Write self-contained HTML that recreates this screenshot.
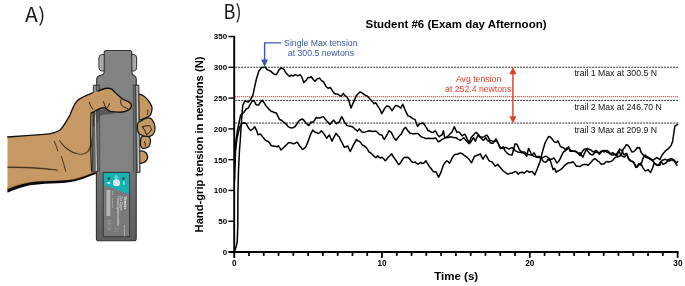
<!DOCTYPE html>
<html lang="en"><head><meta charset="utf-8"><title>Hand-grip tension figure</title>
<style>
html,body{margin:0;padding:0;background:#fff;}
body{width:685px;height:286px;overflow:hidden;}
svg{display:block;}
text{font-family:"Liberation Sans",Arial,sans-serif;}
.lbl{font-family:"Noto Sans CJK SC","Liberation Sans",sans-serif;font-weight:400;font-size:19.5px;fill:#1a1a1a;}
.tk{font-weight:bold;font-size:8.2px;fill:#000;}
.tky{font-weight:bold;font-size:8px;fill:#000;}
.ttl{font-weight:bold;font-size:11.5px;fill:#000;}
.yl{font-weight:bold;font-size:11.2px;fill:#000;}
.ann{font-size:8.7px;}
</style></head><body>
<svg width="685" height="286" viewBox="0 0 685 286">
<rect width="685" height="286" fill="#fff"/>
<g id="illustration" stroke-linejoin="round" stroke-linecap="round">
<!-- forearm + palm (behind device) -->
<path d="M7.5,137 L26.3,135.6 L43.8,134.4 C50,134 56,133 60.4,129.7 C64,126 67,120 70.1,114.8 C72,110 74,103 78,99.9 C84,96 92,93 98.1,91.1 L100,91 L100,173 L95.5,173.1 C90,175 84,178 78.8,179.3 C74,181 70,181.9 57.8,182.4 C50,182.6 40,183 29.8,184.5 C22,186 14,189 7.5,191.5 Z" fill="#c69864"/>
<path d="M7.5,191 C14,188.5 22,185.5 29.8,184 C40,182.5 50,182.1 57.8,181.9 C70,181.4 74,180.5 78.8,178.8 C84,177.5 90,174.5 95.5,172.6 L95.5,171.5 C90,173.2 84,176 78.8,177.3 C74,178.8 70,179.7 57.8,180.2 C50,180.4 40,180.6 29.8,181.6 C22,182.8 14,184.8 7.5,187 Z" fill="#b3854f"/>
<path d="M7.5,192.8 C14,190 22,186.9 29.8,185.3 C40,183.8 50,183.4 57.8,183.2 C70,182.7 74,181.8 78.8,180.1 C84,178.8 90,175.8 95.9,173.9 L95.6,172.1 C90,174 84,176.6 78.8,178 C74,179.5 70,180.3 57.8,180.8 C50,181 40,181.2 29.8,182.4 C22,183.6 14,186.3 7.5,189.3 Z" fill="#0a0a0a"/>
<path d="M7.5,137 L26.3,135.6 L43.8,134.4 C50,134 56,133 60.4,129.7 C64,126 67,120 70.1,114.8 C72,110 74,103 78,99.9 C84,96 92,93 98.1,91.1" fill="none" stroke="#111" stroke-width="1.3"/>
<!-- creases -->
<path d="M54.3,141.4 C56,145 57,148 57.8,151" fill="none" stroke="#2a1a0c" stroke-width="0.8"/>
<path d="M59.6,140.5 C64,147 70,151.5 77.1,153.7 C70,152.5 63.5,147.5 59.6,140.5Z" fill="#2a1a0c" stroke="#2a1a0c" stroke-width="0.5"/>
<path d="M61.3,156.3 C63,161 64.5,166 65.7,171.2" fill="none" stroke="#2a1a0c" stroke-width="0.8"/>
<path d="M8,166.9 C25,166.8 45,167.6 57.8,170.3 C45,168.6 25,167.7 8,167.5Z" fill="#2a1a0c" stroke="#2a1a0c" stroke-width="0.5"/>
<path d="M77.1,153.7 C80,154.8 83,154.6 85.8,152.8" fill="none" stroke="#2a1a0c" stroke-width="0.7"/>
<path d="M91.6,136 C91.2,144 88.8,150 85.8,152.8 C84.5,153.8 83,154.3 82,154.4 C86,154.6 90,152 92.3,146 Z" fill="#6e4a24" stroke="none"/>
<path d="M91.2,112 C90.3,125 90.6,150 91.5,171" fill="none" stroke="#1a1a1a" stroke-width="1.1"/>
<!-- fingers (behind device) -->
<g fill="#c69864" stroke="#111" stroke-width="1.25">
<path d="M137,95 L139.6,94.1 C142.2,94.6 146,97 149.9,102.8 C151.6,105.5 152.3,107.5 152,109.1 C151.8,111.5 151.4,113 150.6,114.7 C150,115.6 149.5,116 149.2,116.1 C148,116.5 147,117 146.4,117.5 L141.5,119.6 L137,120 Z"/>
<path d="M147.8,109.8 C147.9,111.5 147.6,113.2 147.1,114.7" fill="none" stroke-width="0.8"/>
<path d="M137,151.5 C140,150.6 143.5,150.7 145.4,152.2 C147.2,153.7 147.8,156 147.4,158.3 C146.8,161.5 143.5,163.6 137,163.4 Z"/>
</g>
<!-- dynamometer -->
<defs><linearGradient id="bodyg" gradientUnits="userSpaceOnUse" x1="0" y1="50" x2="0" y2="241">
<stop offset="0" stop-color="#828483"/><stop offset="0.63" stop-color="#818382"/><stop offset="0.645" stop-color="#717272"/><stop offset="1" stop-color="#5d5d5d"/></linearGradient></defs>
<g stroke="#303030" stroke-width="1">
<path d="M104.4,54.5 L101.7,54.5 Q98.9,54.8 98.9,58 L98.9,67.5 Q98.9,70.7 101.7,71 L104.4,71 Z" fill="#b2b2b2"/>
<path d="M131.6,54.5 L134,54.5 Q136.6,54.8 136.6,58 L136.6,67.5 Q136.6,70.7 134,71 L131.6,71 Z" fill="#b2b2b2"/>
<path d="M101.6,55.5 L101.6,70 M134.1,55.5 L134.1,70" stroke="#9a9a9a" stroke-width="0.7" fill="none"/>
<path d="M106.2,50.5 L129.8,50.5 Q131.8,50.5 131.8,52.5 L131.8,72 Q131.9,74.8 134.3,75.8 Q136.3,76.8 136.3,79 L136.3,171.8 L136.2,171.8 L136.2,238.4 Q136.2,240.8 133.8,240.8 L98.9,240.8 Q96.4,240.8 96.4,238.4 L96.4,171.8 L96.7,171.8 L96.7,79 Q96.7,76.6 99,75.8 Q104.1,75 104.2,72 L104.2,52.5 Q104.2,50.5 106.2,50.5 Z" fill="url(#bodyg)" stroke-width="1.1"/>
</g>
<!-- grip rails -->
<g stroke="none">
<path d="M93.3,85.2 L99.6,85.2 L99.8,171.6 L92.2,171.6 Z" fill="#666868"/>
<path d="M96.2,85.2 L99.6,85.2 L99.8,171.6 L97.2,171.6 Z" fill="#6c6e6e"/>
<path d="M94.6,86 L95.6,86 L97.1,171 L95.9,171 Z" fill="#d2d2d2"/>
<path d="M133.2,85.2 L138.8,85.2 L140,172.6 L133.4,172.6 Z" fill="#686a6a"/>
<path d="M136.5,86 L137.5,86 L139.1,171.6 L138,171.6 Z" fill="#d6d6d6"/>
</g>
<g fill="none" stroke="#2c2c2c" stroke-width="0.8">
<path d="M92.3,172 L93.4,85.2 L99.5,85.2"/>
<path d="M96.1,85.2 L97.5,171.6" stroke-width="0.6"/>
<path d="M99.6,85.2 L99.7,171.6 L96.8,171.6" stroke-width="0.7" stroke="#444"/>
<path d="M92.3,171.8 L96.6,171.8" stroke-width="0.9"/>
<path d="M133.2,85.2 L138.9,85.2 L140.1,172.6 L136.2,172.6"/>
<path d="M133.3,85.2 L133.3,171.6" stroke-width="0.7" stroke="#444"/>
<path d="M135.5,85.2 L136.6,171.6" stroke-width="0.7"/>
</g>
<!-- curled fingers in front of the right rail -->
<g fill="#c69864" stroke="#111" stroke-width="1.2" stroke-linejoin="round">
<path d="M141.5,137 C143.5,135.6 146.5,135.2 148.6,136.6 C150.4,138 150.8,141 150.2,143.6 C149.3,146.8 146,148.6 142.5,148.3 C140.8,147.5 140.4,145 140.5,142.5 C140.5,140 140.6,138 141.5,137 Z"/>
<path d="M144.6,141.4 C145.2,143 145.5,144.8 145.5,146.3" fill="none" stroke-width="0.8"/>
<path d="M138.2,122.6 C140,121 142.5,120.2 145,118.8 C148.5,117 150.5,117.6 152,119.6 C154.2,122.5 155.3,126 154.9,129.5 C154.6,132 153.8,134 152.5,135 C150.5,136.4 148.5,136.7 147.5,136.5 C144.5,136.6 141.6,135.5 139.5,134 C137.9,132.5 137.4,130 137.4,128 C137.4,125.5 137.5,123.6 138.2,122.6 Z"/>
<path d="M142.6,126.7 C144.5,126 147.5,125.5 149.5,125.7 C150.6,126.8 151.3,128.2 151.4,129.7 C150.2,131.8 148.5,133.5 146.5,134.6 C145.5,132 144.2,129 142.6,126.7 Z" stroke-width="0.95"/>
<path d="M146.5,134.6 C147,135.5 147.3,136 147.5,136.5" fill="none" stroke-width="0.9"/>
</g>
<!-- label -->
<g>
<rect x="103.6" y="172.5" width="26" height="64.1" fill="#797b7b"/>
<path d="M103.6,172.5 L129.6,172.5 L129.6,194.3 L103.6,184.9 Z" fill="#17b0b5"/>
<rect x="103.6" y="172.5" width="26" height="64.1" fill="none" stroke="#2d3333" stroke-width="0.9"/>
<circle cx="108.9" cy="178.6" r="1.35" fill="#3b4a4a"/>
<circle cx="123.6" cy="178.6" r="1.35" fill="#3b4a4a"/>
<circle cx="116.5" cy="182.8" r="3.5" fill="#eef6f6"/>
<circle cx="116.5" cy="182.8" r="2.1" fill="#dfe7e7" stroke="#b9c6c6" stroke-width="0.45"/>
<path d="M116.2,175.6 L116.2,179 M115,176.7 L116.2,175.6 L117.4,176.7 M114.4,177.9 L118,177.9" stroke="#e8ffff" stroke-width="0.45" fill="none"/>
<rect x="107.2" y="182.1" width="3.1" height="1.6" rx="0.8" fill="#f4ffff"/>
<rect x="123" y="181.3" width="1.6" height="3.4" fill="#a5e3e5"/>
<g stroke="none">
<text transform="translate(124.3,196.6) rotate(90)" style="font-size:3.7px;font-weight:bold;" fill="#fff">Vernier</text>
<text transform="translate(120.3,196.6) rotate(90)" style="font-size:3.3px;" fill="#e4e4e4">Go Direct</text>
<text transform="translate(116.7,196.6) rotate(90)" style="font-size:3.3px;" fill="#e4e4e4">Hand Dynamometer</text>
<text transform="translate(112.4,191) rotate(90)" style="font-size:2.1px;" fill="#dcdcdc">GDX-HD 0510031</text>
<text transform="translate(124.3,225) rotate(90)" style="font-size:2.3px;" fill="#f0f0f0">vernier.com</text>
</g>
<g stroke="#ededed" stroke-width="1.05" fill="none">
<path d="M106.9,191.0 L110,191.0"/><path d="M106.9,193.0 L110,193.0"/><path d="M106.9,195.0 L110,195.0"/><path d="M106.9,197.0 L110,197.0"/><path d="M106.9,199.0 L110,199.0"/><path d="M106.9,201.0 L110,201.0"/><path d="M106.9,203.0 L110,203.0"/><path d="M106.9,205.0 L110,205.0"/><path d="M106.9,207.0 L110,207.0"/><path d="M106.9,209.0 L110,209.0"/><path d="M106.9,211.0 L110,211.0"/><path d="M106.9,213.0 L110,213.0"/><path d="M106.9,215.0 L110,215.0"/></g>
<g stroke="#cfcfcf" stroke-width="0.35" fill="none">
<path d="M108,220.5 L110.5,220.5 M108,222 L110.5,222 M108,223.5 L110.5,223.5 M108,225 L110.5,225 M108,228 L110.5,228 M108,229.5 L110.5,229.5"/>
<path d="M115.5,229 L117,229 M115.5,231.5 L116.5,231.5"/>
</g>
</g>
<!-- thumb (in front of device) -->
<path d="M97,111 C101,109.6 105,109 107.8,109.2 C110,110.8 112.5,112.2 115.5,112.8 C111,115.2 104.5,113.8 100.6,115.4 C99,116.4 98.4,119 98.3,123 L97,123 Z" fill="#454545" opacity="0.7"/>
<path d="M93.8,112 C93,114 92.8,120 93,127 L94.6,127 C94.6,121 95,115.5 96.4,112.6 Z" fill="#2a2a2a" opacity="0.55"/>
<path d="M86,97 C92,93.5 99,90 105,88.5 C108,88 110.5,88.3 112,89.4 C114,91 115.5,93 117.3,94.6 C119,96.3 121,97.8 122.6,99 C125,100.5 128,101 129.6,102.5 C131.3,103.8 131.8,105 131.3,106.5 C130.8,108.5 129.5,109.8 127.8,110.4 C125,111.8 122,112.3 119,112.2 C116,112.1 113,112 110.3,111.3 C108,110.3 106.5,108.5 105,107.8 C103,107.5 101.5,108 99.8,108.7 C98,109.5 96,110.5 94.5,111.3 L91,113 L86,113 Z" fill="#c69864" stroke="none"/>
<path d="M98.1,91.1 C100,90 103,89 105,88.5 C108,88 110.5,88.3 112,89.4 C114,91 115.5,93 117.3,94.6 C119,96.3 121,97.8 122.6,99 C125,100.5 128,101 129.6,102.5 C131.3,103.8 131.8,105 131.3,106.5 C130.8,108.5 129.5,109.8 127.8,110.4 C125,111.8 122,112.3 119,112.2 C116,112.1 113,112 110.3,111.3 C108,110.3 106.5,108.5 105,107.8 C103,107.5 101.5,108 99.8,108.7 C98,109.5 96,110.5 94.5,111.3 C93,112 92,112.5 91.2,113" fill="none" stroke="#111" stroke-width="1.35" stroke-linecap="round"/>
<path d="M120.8,99.9 C120.5,102 120.8,104 121.7,105.3 C123.5,107 126,108 127.8,108.7" fill="none" stroke="#111" stroke-width="0.9"/>
<path d="M89.3,102.4 C90,105 91.3,107.4 92.9,109.2" fill="none" stroke="#111" stroke-width="0.85"/>
<path d="M103.6,101.8 C104.2,104 104.9,105.8 105.6,107.3" fill="none" stroke="#111" stroke-width="0.85"/>
<path d="M109.6,103.6 C109,105.3 108.2,106.8 107,107.9" fill="none" stroke="#111" stroke-width="0.85"/>
</g>
<text class="lbl" transform="translate(25,21.8) scale(1.08,1)" style="letter-spacing:0.4px">A)</text>
<text class="lbl" transform="translate(223.6,19.2) scale(0.93,1)">B)</text>
<g id="chart">
<text class="ttl" x="456" y="27.8" text-anchor="middle">Student #6 (Exam day Afternoon)</text>
<path d="M235.2,67.26 L678,67.26" stroke="#151515" stroke-width="0.9" stroke-dasharray="2 1" fill="none"/>
<path d="M235.2,100.38 L678,100.38" stroke="#151515" stroke-width="0.9" stroke-dasharray="2 1" fill="none"/>
<path d="M235.2,123.04 L678,123.04" stroke="#151515" stroke-width="0.9" stroke-dasharray="2 1" fill="none"/>
<path d="M235.2,96.72 L678,96.72" stroke="#de3b26" stroke-width="1.2" stroke-dasharray="1.05 0.95" fill="none"/>
<polyline points="234.6,180.0 235.0,165.0 235.6,150.0 236.8,140.0 238.2,133.0 239.8,127.0 241.5,124.0 243.8,122.7 246.4,123.8 248.5,128.0 250.6,130.4 252.7,129.0 254.8,126.9 256.4,130.1 258.0,134.8 259.3,134.3 260.6,134.3 262.7,136.9 264.0,138.5 265.3,140.1 267.1,141.0 269.0,142.2 271.1,145.5 272.6,146.1 274.2,146.2 275.5,146.2 276.9,146.9 278.5,145.9 279.7,147.6 280.9,150.0 282.9,148.2 284.8,146.4 286.6,144.7 288.4,142.7 289.8,142.8 291.1,142.7 292.3,143.5 293.5,143.8 295.2,143.2 297.0,142.0 298.3,143.7 299.6,145.9 301.0,147.3 302.3,149.4 304.1,148.5 305.8,147.0 308.4,140.6 310.7,134.2 312.8,130.1 314.1,131.3 315.4,132.4 316.7,132.5 318.0,133.6 319.8,132.6 321.5,130.7 322.9,132.5 324.2,134.2 325.5,136.4 326.8,138.2 328.1,136.4 329.4,135.0 332.0,141.2 335.9,133.3 337.5,135.3 339.1,136.8 340.4,139.6 341.7,142.0 343.0,144.5 344.3,147.3 346.1,146.7 347.8,145.9 349.1,149.2 350.3,151.5 353.1,145.5 356.6,139.5 358.0,140.9 359.3,141.3 360.9,142.9 362.5,145.3 364.2,145.8 366.0,147.3 367.4,149.1 368.9,151.9 370.6,152.9 372.4,154.5 374.1,156.4 375.9,157.7 377.7,155.9 379.0,157.1 380.3,158.0 382.0,157.2 383.6,158.8 385.2,160.7 386.7,159.4 388.2,157.2 389.9,155.7 391.7,153.7 393.0,156.3 394.3,158.0 398.7,164.7 400.0,163.5 401.3,161.5 402.9,158.8 404.5,157.2 406.0,157.5 407.5,157.2 408.8,158.1 410.1,159.4 411.4,161.4 412.7,162.4 414.0,162.3 415.3,161.9 416.6,163.4 418.0,164.2 419.3,163.3 420.6,162.4 421.9,163.4 423.2,163.3 424.5,162.5 425.8,160.7 427.1,162.9 428.5,165.0 429.8,167.1 431.1,168.5 432.4,170.4 433.7,172.0 434.9,171.8 436.0,171.7 437.2,174.4 438.5,177.3 440.7,172.9 443.4,165.0 445.1,162.6 446.9,160.7 448.2,161.8 449.5,163.3 450.8,160.9 452.1,158.0 453.5,155.8 454.8,154.5 456.1,154.3 457.4,154.2 458.9,153.5 460.3,153.0 462.5,153.9 464.6,155.7 466.8,157.1 469.0,159.2 470.3,161.2 471.6,162.7 474.3,156.5 476.1,155.7 477.8,154.8 479.1,154.7 480.4,153.9 481.7,156.9 483.0,159.2 484.4,156.7 485.7,154.8 489.2,160.9 490.5,161.4 491.8,161.8 493.6,163.9 495.3,166.2 496.6,165.3 497.9,164.4 499.6,166.7 501.4,168.8 503.1,170.8 504.9,172.0 506.6,173.5 508.4,174.1 510.1,173.2 511.9,173.2 513.6,172.4 515.4,171.4 516.8,172.3 518.1,174.1 519.9,172.8 521.6,172.3 522.9,172.6 524.2,173.2 525.5,172.0 526.8,170.9 528.1,171.3 529.5,172.3 530.8,171.8 532.1,171.4 533.4,172.9 534.7,174.9 537.3,168.8 540.0,161.8 542.6,151.3 545.2,142.5 548.7,136.4 550.0,136.9 551.4,138.1 552.7,139.8 554.0,141.6 555.3,142.2 556.6,142.5 558.0,140.8 560.1,146.0 561.9,147.3 563.6,147.8 565.0,149.5 566.8,148.1 568.5,147.8 570.2,149.8 572.0,151.3 573.8,151.3 575.5,150.9 577.2,152.8 579.0,153.9 580.0,152.7 581.5,155.1 582.9,157.1 584.0,154.3 585.1,152.0 587.3,148.3 588.8,149.2 590.3,149.7 591.8,150.9 593.2,152.0 594.7,151.1 596.2,150.5 597.7,151.9 599.1,154.2 600.5,153.1 602.0,151.2 603.5,150.6 605.0,150.5 606.8,152.1 608.6,152.7 610.1,153.8 611.6,154.9 613.4,155.0 615.2,154.2 617.4,157.1 619.2,156.1 621.1,155.6 623.3,149.0 624.8,147.2 626.3,144.6 627.8,145.2 629.2,146.8 630.7,149.7 632.1,152.0 633.6,151.6 635.1,150.5 637.3,147.5 638.4,148.0 639.5,147.5 640.9,152.0 642.0,153.6 643.1,154.9 645.0,155.2 646.8,156.4 648.6,157.5 650.5,158.6 652.0,159.7 653.4,160.0 654.9,158.8 656.4,157.8 658.2,158.3 660.0,159.6 661.1,157.0 662.2,155.0 663.6,153.1 665.0,151.4 666.8,149.8 668.5,148.6 669.9,147.1 671.3,145.1 672.7,140.9 673.4,136.0 674.0,132.0 674.8,126.4 676.0,125.3 677.6,124.5" fill="none" stroke="#000" stroke-width="1.5" stroke-linejoin="round" stroke-linecap="round"/>
<polyline points="234.8,165.0 235.3,150.0 236.0,140.0 237.5,130.0 239.2,122.0 240.6,115.1 243.8,112.5 246.4,108.8 248.0,108.3 249.5,105.7 251.6,102.0 253.2,100.2 254.8,102.0 255.9,104.4 257.2,105.1 258.5,105.1 260.6,102.0 262.2,100.2 263.7,102.0 265.8,105.7 267.1,107.0 268.5,108.8 269.8,109.8 271.1,111.4 272.6,111.6 274.2,112.5 276.3,113.0 277.9,116.2 279.5,119.5 281.6,120.2 283.7,122.2 285.8,123.8 287.1,125.1 288.4,126.9 289.8,127.4 291.1,128.0 292.4,127.8 293.7,127.5 295.3,126.3 297.1,123.7 298.8,121.0 300.6,119.7 302.3,118.9 304.1,120.6 305.8,122.8 307.4,124.5 308.9,125.4 311.0,121.9 312.8,122.4 314.6,120.2 316.3,117.5 318.1,117.9 319.8,118.0 321.6,117.1 323.3,116.6 325.1,119.0 326.8,121.0 328.4,122.8 329.9,124.5 331.9,122.0 333.8,120.1 335.1,121.9 336.4,123.7 337.8,122.5 339.1,122.4 340.4,119.4 341.7,116.6 343.0,118.8 344.3,121.9 345.6,123.4 346.9,125.4 348.6,125.9 350.4,126.3 352.1,126.7 353.9,128.0 355.7,129.7 357.5,131.2 359.2,128.9 360.5,130.3 361.8,131.9 363.6,132.3 365.3,131.9 367.1,131.4 368.8,130.7 370.6,131.1 372.3,131.5 374.1,131.2 375.8,131.2 377.6,132.5 379.3,134.2 380.6,134.7 382.0,135.0 383.1,137.7 384.3,139.4 386.4,135.9 387.7,133.5 389.0,130.7 390.1,131.7 391.3,132.4 393.4,136.8 394.7,138.8 396.0,140.3 397.3,138.5 398.6,136.8 399.9,135.3 401.2,134.2 402.5,131.4 403.9,128.9 405.6,127.2 407.7,130.7 408.9,131.7 410.0,133.2 411.8,133.6 413.6,133.9 415.8,133.4 418.0,133.5 419.8,135.4 421.5,137.0 423.6,137.6 425.8,138.5 428.5,138.3 431.1,138.5 433.3,138.4 435.5,137.9 436.9,139.7 438.3,141.8 440.1,141.0 442.0,139.4 443.8,138.6 445.6,137.7 448.2,137.5 450.8,136.8 453.5,137.6 456.1,137.7 458.2,139.4 460.4,140.3 462.1,139.0 463.9,137.7 465.2,139.6 466.6,141.2 467.9,142.6 469.2,143.8 470.5,142.5 471.8,140.3 473.6,137.7 475.3,141.2 478.0,135.0 479.3,136.7 480.6,137.7 481.9,138.9 483.2,140.3 484.5,139.3 485.8,137.7 487.1,140.0 488.5,141.2 490.0,140.3 491.9,140.9 493.7,141.7 495.1,140.9 496.6,141.0 498.1,143.2 499.5,146.2 501.0,147.5 502.5,148.4 504.4,147.6 506.2,147.6 507.6,148.4 509.1,149.1 510.6,148.2 512.0,147.6 513.5,148.8 515.0,150.6 516.5,151.4 517.9,152.0 519.8,152.3 521.6,152.8 523.0,152.0 524.5,152.0 526.0,153.5 527.4,154.2 528.9,154.6 530.4,155.0 532.2,155.4 534.1,156.4 535.9,156.9 537.7,156.4 539.2,156.4 540.7,157.2 542.2,157.6 543.6,157.2 545.0,156.3 546.5,156.4 548.4,157.9 550.2,159.4 552.0,159.1 553.9,157.9 555.3,160.2 556.8,163.0 557.9,162.0 559.0,160.8 560.1,158.9 561.2,156.4 563.4,152.0 564.9,151.2 566.4,149.8 567.5,148.9 568.6,146.9 570.0,151.3 571.9,150.8 573.8,151.3 576.0,151.7 578.1,153.0 580.0,155.6 581.9,152.3 583.7,149.7 585.2,149.0 586.6,149.0 588.0,151.5 589.5,153.4 591.0,154.6 592.5,154.9 594.0,153.7 595.4,152.0 596.9,152.2 598.4,152.7 599.8,152.4 601.3,151.2 602.8,151.1 604.2,152.0 605.7,151.0 607.2,150.5 608.7,151.8 610.1,153.4 611.5,153.3 613.0,152.7 614.5,154.2 616.0,154.9 617.5,152.6 618.9,150.5 620.0,153.3 621.1,155.6 622.6,156.1 624.1,157.1 625.5,156.1 627.0,154.2 628.1,157.4 629.2,160.0 630.7,161.2 632.1,161.5 633.6,162.4 635.1,164.4 636.5,167.4 637.6,165.9 638.7,163.7 640.9,165.2 642.4,160.0 643.9,156.4 645.3,156.8 646.8,157.8 648.3,158.0 649.8,159.3 651.2,159.8 652.7,160.8 654.9,163.7 656.0,164.8 657.1,165.2 658.5,165.0 660.0,165.2 661.1,162.3 662.2,160.0 663.7,159.9 665.2,159.3 666.7,160.1 668.1,160.0 669.5,159.1 671.0,158.6 672.5,159.0 674.0,160.0 675.1,161.3 676.2,163.0 677.7,161.5" fill="none" stroke="#000" stroke-width="1.5" stroke-linejoin="round" stroke-linecap="round"/>
<polyline points="234.5,251.5 236.0,247.0 237.2,241.8 237.8,226.0 237.9,196.0 238.5,170.0 239.5,150.0 240.3,140.0 240.9,130.0 241.7,118.0 242.7,105.7 244.8,100.9 246.5,101.5 248.5,102.0 250.6,99.4 251.7,97.5 252.8,95.3 256.3,79.5 258.9,70.8 260.2,69.4 261.5,67.6 263.2,67.4 265.0,66.9 266.4,68.9 267.7,69.9 269.4,70.5 271.2,71.6 272.5,72.9 273.8,73.9 275.1,74.6 276.4,74.6 277.7,72.3 279.0,69.9 280.1,68.9 281.3,67.8 282.8,68.7 284.3,69.9 285.6,72.4 286.9,73.9 288.2,75.2 289.6,76.4 291.3,75.1 293.0,76.0 295.2,74.6 297.4,75.7 298.7,75.5 300.0,74.6 301.8,76.9 303.9,82.7 305.0,81.1 306.2,80.4 308.0,77.4 309.7,77.8 311.1,76.5 313.2,79.5 315.0,81.3 316.3,79.6 317.6,78.7 319.4,78.1 321.5,80.4 323.7,82.2 324.9,84.4 326.0,86.5 328.1,88.3 330.2,87.4 331.4,89.2 332.5,90.9 334.2,93.2 335.5,94.1 336.9,93.9 338.2,94.3 339.5,95.3 341.2,96.4 343.3,93.3 344.8,95.6 346.5,96.6 348.4,99.3 351.0,108.0 353.7,101.9 356.3,95.8 358.1,93.8 359.8,91.9 361.6,92.5 363.3,94.0 365.1,95.1 366.8,95.8 368.6,97.4 370.3,99.3 372.1,101.2 373.8,103.7 375.9,102.8 377.5,105.7 379.1,108.0 380.4,110.4 381.7,113.6 383.0,111.7 384.3,108.9 385.6,107.3 386.9,105.9 388.2,106.2 389.6,107.2 390.9,108.9 392.2,110.7 393.9,107.9 395.7,105.4 397.0,105.8 398.3,106.3 399.6,107.1 401.0,108.0 402.7,104.2 403.9,106.8 405.0,109.8 408.0,115.9 409.8,116.4 411.5,117.7 413.2,118.9 415.0,119.4 417.6,126.4 419.7,123.8 421.3,123.5 422.9,122.9 424.2,124.2 425.5,126.4 426.8,128.1 428.0,130.7 429.4,130.8 430.7,131.9 432.0,132.2 433.3,132.4 435.0,130.7 436.4,132.3 437.7,135.0 439.4,136.8 440.7,135.5 442.0,135.0 443.4,130.7 444.7,137.7 446.4,137.3 448.2,135.9 449.9,134.0 451.7,132.4 453.0,129.8 454.3,126.6 455.6,129.5 456.9,132.4 458.2,131.9 459.6,132.4 460.9,134.3 462.2,135.9 463.5,134.7 464.8,134.2 466.1,136.4 467.4,139.4 469.2,142.9 471.0,137.7 472.3,136.1 473.6,135.0 474.9,133.3 476.2,132.4 477.5,133.6 478.8,135.0 480.1,136.7 481.5,137.7 482.8,136.9 484.1,136.8 485.4,135.9 486.7,135.0 488.0,136.7 489.3,139.4 490.0,142.5 491.4,143.3 492.9,143.2 494.4,141.4 495.9,138.8 497.0,141.0 498.1,143.2 500.3,148.4 501.8,148.2 503.2,146.9 505.4,151.3 506.9,152.7 508.4,154.2 510.2,154.7 512.0,155.0 513.5,149.8 515.0,144.0 516.1,143.9 517.2,144.7 519.4,149.8 520.5,150.7 521.6,152.0 523.0,152.9 524.5,153.5 525.6,154.6 526.7,156.4 528.5,148.4 530.4,152.0 531.9,155.0 533.0,154.0 534.1,152.8 536.3,157.2 538.1,157.3 539.9,157.9 541.4,157.9 542.5,160.2 543.6,161.6 545.8,162.3 546.9,161.2 548.0,159.4 549.1,160.2 550.2,160.1 551.7,165.2 553.1,169.6 554.6,168.2 556.1,172.2 557.2,171.1 558.4,171.0 560.5,169.6 562.7,167.8 564.9,165.2 566.7,163.9 568.5,162.7 570.7,162.8 572.9,161.8 574.6,163.6 576.4,166.2 578.2,166.3 580.0,166.6 582.2,165.0 584.4,164.4 586.2,164.4 588.1,165.2 589.5,163.8 591.0,162.2 592.9,159.9 594.7,158.6 596.2,159.7 597.6,160.8 599.5,162.1 601.3,164.4 602.8,163.9 604.2,163.7 605.7,162.1 607.2,161.5 608.7,162.0 610.1,161.5 611.5,161.3 613.0,160.0 614.5,158.1 616.0,157.1 617.1,155.2 618.2,152.7 619.6,149.0 620.8,149.8 621.9,150.5 623.0,152.9 624.1,154.9 626.3,153.4 627.4,155.9 628.5,158.6 629.6,159.5 630.7,160.8 632.2,161.3 633.6,162.2 635.8,167.4 637.2,166.8 638.7,165.2 640.9,163.0 642.0,165.9 643.1,168.1 645.3,171.0 646.8,170.4 648.3,169.6 649.4,171.3 650.5,172.5 651.6,170.3 652.7,167.4 654.2,163.0 656.4,164.4 657.5,165.1 658.6,165.2 660.8,161.5 661.9,162.7 663.0,164.4 664.5,163.7 665.9,163.0 667.0,161.8 668.1,160.8 669.5,160.9 671.0,160.0 672.5,160.1 674.0,160.8 675.5,162.9 676.9,165.2" fill="none" stroke="#000" stroke-width="1.5" stroke-linejoin="round" stroke-linecap="round"/>
<path d="M234.2,35.8 L234.2,257.9" stroke="#000" stroke-width="1.9" fill="none"/>
<path d="M228.4,252.0 L678.5,252.0" stroke="#000" stroke-width="1.9" fill="none"/>
<path d="M228.4,221.22 L234.2,221.22" stroke="#000" stroke-width="1.4" fill="none"/>
<path d="M228.4,190.44 L234.2,190.44" stroke="#000" stroke-width="1.4" fill="none"/>
<path d="M228.4,159.66 L234.2,159.66" stroke="#000" stroke-width="1.4" fill="none"/>
<path d="M228.4,128.88 L234.2,128.88" stroke="#000" stroke-width="1.4" fill="none"/>
<path d="M228.4,98.10 L234.2,98.10" stroke="#000" stroke-width="1.4" fill="none"/>
<path d="M228.4,67.32 L234.2,67.32" stroke="#000" stroke-width="1.4" fill="none"/>
<path d="M228.4,36.54 L234.2,36.54" stroke="#000" stroke-width="1.4" fill="none"/>
<text class="tky" x="227.1" y="254.8" text-anchor="end">0</text>
<text class="tky" x="227.1" y="224.0" text-anchor="end">50</text>
<text class="tky" x="227.1" y="193.2" text-anchor="end">100</text>
<text class="tky" x="227.1" y="162.5" text-anchor="end">150</text>
<text class="tky" x="227.1" y="131.7" text-anchor="end">200</text>
<text class="tky" x="227.1" y="100.9" text-anchor="end">250</text>
<text class="tky" x="227.1" y="70.1" text-anchor="end">300</text>
<text class="tky" x="227.1" y="39.3" text-anchor="end">350</text>
<path d="M248.98,252.0 L248.98,255.9" stroke="#000" stroke-width="1.75" fill="none"/>
<path d="M263.76,252.0 L263.76,255.9" stroke="#000" stroke-width="1.75" fill="none"/>
<path d="M278.54,252.0 L278.54,255.9" stroke="#000" stroke-width="1.75" fill="none"/>
<path d="M293.32,252.0 L293.32,255.9" stroke="#000" stroke-width="1.75" fill="none"/>
<path d="M308.10,252.0 L308.10,255.9" stroke="#000" stroke-width="1.75" fill="none"/>
<path d="M322.88,252.0 L322.88,255.9" stroke="#000" stroke-width="1.75" fill="none"/>
<path d="M337.66,252.0 L337.66,255.9" stroke="#000" stroke-width="1.75" fill="none"/>
<path d="M352.44,252.0 L352.44,255.9" stroke="#000" stroke-width="1.75" fill="none"/>
<path d="M367.22,252.0 L367.22,255.9" stroke="#000" stroke-width="1.75" fill="none"/>
<path d="M382.00,252.0 L382.00,257.9" stroke="#000" stroke-width="1.75" fill="none"/>
<path d="M396.78,252.0 L396.78,255.9" stroke="#000" stroke-width="1.75" fill="none"/>
<path d="M411.56,252.0 L411.56,255.9" stroke="#000" stroke-width="1.75" fill="none"/>
<path d="M426.34,252.0 L426.34,255.9" stroke="#000" stroke-width="1.75" fill="none"/>
<path d="M441.12,252.0 L441.12,255.9" stroke="#000" stroke-width="1.75" fill="none"/>
<path d="M455.90,252.0 L455.90,255.9" stroke="#000" stroke-width="1.75" fill="none"/>
<path d="M470.68,252.0 L470.68,255.9" stroke="#000" stroke-width="1.75" fill="none"/>
<path d="M485.46,252.0 L485.46,255.9" stroke="#000" stroke-width="1.75" fill="none"/>
<path d="M500.24,252.0 L500.24,255.9" stroke="#000" stroke-width="1.75" fill="none"/>
<path d="M515.02,252.0 L515.02,255.9" stroke="#000" stroke-width="1.75" fill="none"/>
<path d="M529.80,252.0 L529.80,257.9" stroke="#000" stroke-width="1.75" fill="none"/>
<path d="M544.58,252.0 L544.58,255.9" stroke="#000" stroke-width="1.75" fill="none"/>
<path d="M559.36,252.0 L559.36,255.9" stroke="#000" stroke-width="1.75" fill="none"/>
<path d="M574.14,252.0 L574.14,255.9" stroke="#000" stroke-width="1.75" fill="none"/>
<path d="M588.92,252.0 L588.92,255.9" stroke="#000" stroke-width="1.75" fill="none"/>
<path d="M603.70,252.0 L603.70,255.9" stroke="#000" stroke-width="1.75" fill="none"/>
<path d="M618.48,252.0 L618.48,255.9" stroke="#000" stroke-width="1.75" fill="none"/>
<path d="M633.26,252.0 L633.26,255.9" stroke="#000" stroke-width="1.75" fill="none"/>
<path d="M648.04,252.0 L648.04,255.9" stroke="#000" stroke-width="1.75" fill="none"/>
<path d="M662.82,252.0 L662.82,255.9" stroke="#000" stroke-width="1.75" fill="none"/>
<path d="M677.60,252.0 L677.60,257.9" stroke="#000" stroke-width="1.75" fill="none"/>
<text class="tk" x="234.2" y="266" text-anchor="middle">0</text>
<text class="tk" x="382.0" y="266" text-anchor="middle">10</text>
<text class="tk" x="529.8" y="266" text-anchor="middle">20</text>
<text class="tk" x="677.9" y="266" text-anchor="middle">30</text>
<text class="ttl" x="456.2" y="280" text-anchor="middle">Time (s)</text>
<text class="yl" transform="translate(203.45,144.5) rotate(-90)" text-anchor="middle">Hand-grip tension in newtons (N)</text>
<g fill="#3c57a6">
<text class="ann" x="320.8" y="45.9" text-anchor="middle">Single Max tension</text>
<text class="ann" x="320.9" y="56" text-anchor="middle">at 300.5 newtons</text>
<path d="M281.3,42.9 L264.6,42.9 L264.6,60.5" fill="none" stroke="#3c57a6" stroke-width="1.4"/>
<path d="M261.1,59.5 L268.1,59.5 L264.6,67.1 Z"/>
</g>
<g fill="#e03c28">
<text class="ann" x="478.6" y="82" text-anchor="middle">Avg tension</text>
<text class="ann" x="478.2" y="92.3" text-anchor="middle">at 252.4 newtons</text>
<path d="M512.9,73 L512.9,117.5" fill="none" stroke="#e03c28" stroke-width="1.4"/>
<path d="M509.4,74.3 L516.4,74.3 L512.9,67 Z"/>
<path d="M509.4,116.2 L516.4,116.2 L512.9,123.4 Z"/>
</g>
<g fill="#111">
<text class="ann" x="574.4" y="76.4">trail 1 Max at 300.5 N</text>
<text class="ann" x="574.4" y="110.2">trail 2 Max at 246.70 N</text>
<text class="ann" x="574.4" y="133.4">trail 3 Max at 209.9 N</text>
</g>
</g>
</svg>
</body></html>
